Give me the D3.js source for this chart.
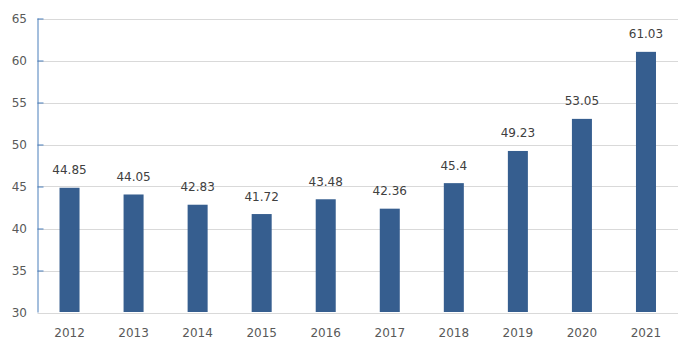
<!DOCTYPE html>
<html>
<head>
<meta charset="utf-8">
<script src="https://cdn.jsdelivr.net/npm/d3@7"></script>
<style>
  body { margin: 0; background: #fff; }
  svg text { font-family: "DejaVu Sans", sans-serif; }
</style>
</head>
<body>
<div id="chart"></div>
<script>
    const years = ["2012", "2013", "2014", "2015", "2016", "2017", "2018", "2019", "2020", "2021"];
    const values = [44.85, 44.05, 42.83, 41.72, 43.48, 42.36, 45.4, 49.23, 53.05, 61.03];
    const yTicks = [30, 35, 40, 45, 50, 55, 60, 65];

    const width = 696, height = 353;
    const plotLeft = 37.5, plotRight = 678, plotTop = 18.5, plotBottom = 312.5;

    const svg = d3.select("#chart")
        .append("svg")
        .attr("width", width)
        .attr("height", height);

    const x = d3.scaleBand()
        .domain(years)
        .range([plotLeft, plotRight])
        .paddingInner(0.6875)
        .paddingOuter(0.34375);

    const y = d3.scaleLinear()
        .domain([30, 65])
        .range([plotBottom, plotTop]);

    // gridlines
    svg.append("g")
        .selectAll("line")
        .data(yTicks.slice(1))
        .join("line")
        .attr("x1", plotLeft)
        .attr("x2", plotRight)
        .attr("y1", d => Math.round(y(d)) + 0.5)
        .attr("y2", d => Math.round(y(d)) + 0.5)
        .attr("stroke", "#d9d9d9")
        .attr("stroke-width", 1);

    // bars
    svg.append("g")
        .selectAll("rect")
        .data(values)
        .join("rect")
        .attr("x", (d, i) => x(years[i]))
        .attr("width", x.bandwidth())
        .attr("y", d => y(d))
        .attr("height", d => y(30) - y(d) - 0.5)
        .attr("fill", "#365e8f");

    // bottom axis line
    svg.append("line")
        .attr("x1", plotLeft)
        .attr("x2", plotRight)
        .attr("y1", Math.round(y(30)) + 0.5)
        .attr("y2", Math.round(y(30)) + 0.5)
        .attr("stroke", "#d9d9d9");

    // y axis
    const yAxis = d3.axisRight(y)
        .tickValues(yTicks)
        .tickSize(6)
        .tickFormat("");

    const ya = svg.append("g")
        .attr("transform", `translate(${plotLeft},0)`)
        .call(yAxis);
    ya.select(".domain").attr("stroke", "#4a7ebb").attr("d", `M0.5,${plotTop}V${plotBottom}`);
    ya.selectAll(".tick line").attr("stroke", "#4a7ebb");
    ya.selectAll(".tick").filter(d => d === 30).select("line").remove();

    svg.append("g")
        .selectAll("text")
        .data(yTicks)
        .join("text")
        .attr("x", 27)
        .attr("y", d => y(d) + 4.5)
        .attr("text-anchor", "end")
        .attr("font-size", 12)
        .attr("fill", "#595959")
        .text(d => d);

    // x labels
    svg.append("g")
        .selectAll("text")
        .data(years)
        .join("text")
        .attr("x", d => x(d) + x.bandwidth() / 2)
        .attr("y", 337)
        .attr("text-anchor", "middle")
        .attr("font-size", 12)
        .attr("fill", "#595959")
        .text(d => d);

    // value labels
    svg.append("g")
        .selectAll("text")
        .data(values)
        .join("text")
        .attr("x", (d, i) => x(years[i]) + x.bandwidth() / 2)
        .attr("y", d => y(d) - 13.5)
        .attr("text-anchor", "middle")
        .attr("font-size", 12)
        .attr("fill", "#404040")
        .text(d => d);
</script>
</body>
</html>
